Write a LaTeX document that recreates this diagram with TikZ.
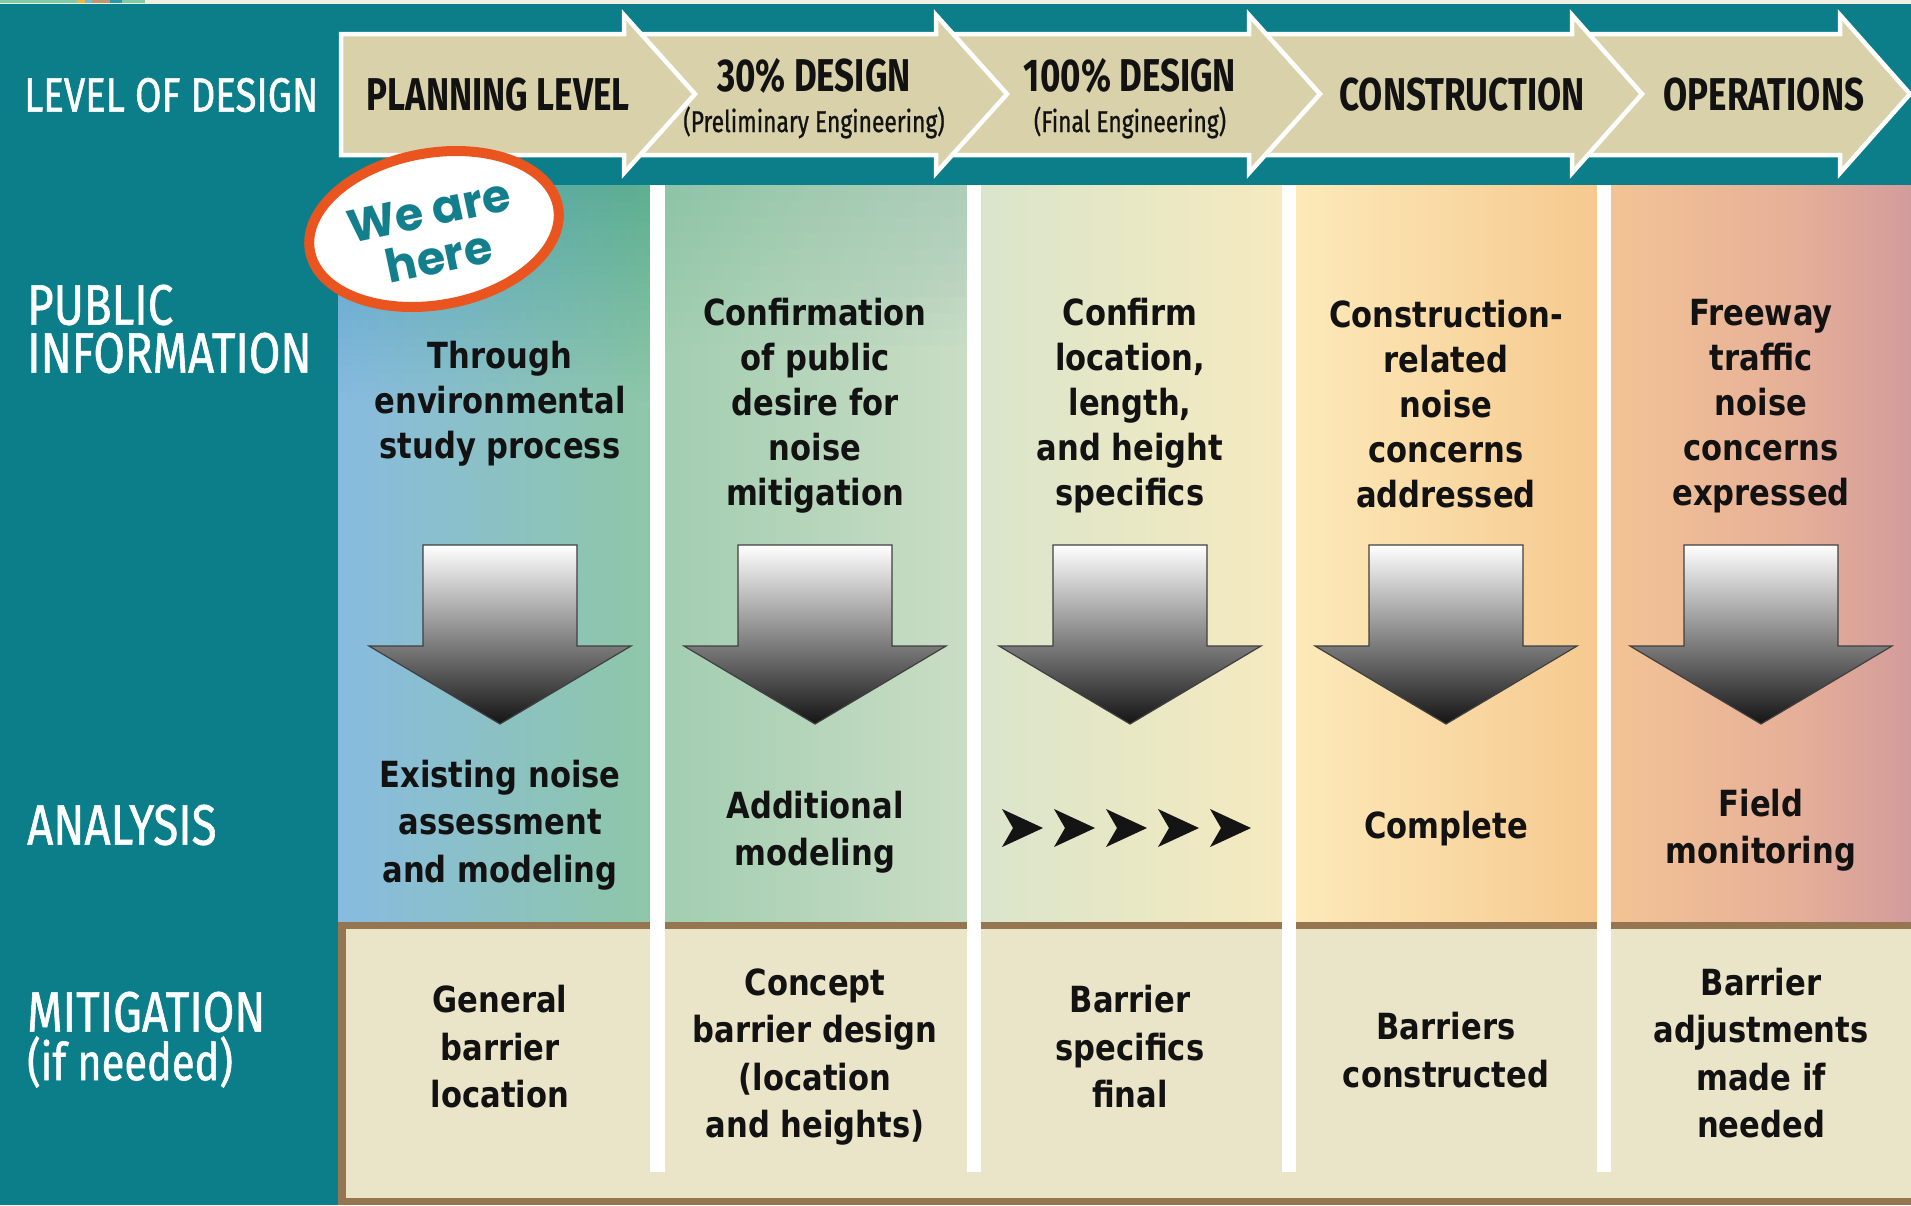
\documentclass[tikz,border=0pt]{standalone}
\usepackage{fontspec}
\newfontfamily\lblfont[FakeStretch=0.8,FakeBold=1]{Fira Sans}
\newfontfamily\arrfont[FakeStretch=0.76]{Fira Sans}
\newfontfamily\subfont[FakeStretch=0.76,FakeBold=0.8]{Fira Sans}
\newfontfamily\bodyfont[FakeStretch=0.85]{DejaVu Sans}
\newfontfamily\herefont{Poppins}
\definecolor{tealbg}{HTML}{0B7E8A}
\definecolor{stripbg}{HTML}{F1EEE6}
\definecolor{sA}{HTML}{7FCBA8}
\definecolor{sB}{HTML}{F0B840}
\definecolor{sC}{HTML}{6EC0D0}
\definecolor{sD}{HTML}{C09870}
\definecolor{sE}{HTML}{2A9AAA}
\definecolor{khaki}{HTML}{D8D1AA}
\definecolor{brownln}{HTML}{957650}
\definecolor{beige}{HTML}{EAE4C9}
\definecolor{orng}{HTML}{E9541F}
\definecolor{hereteal}{HTML}{137F8C}
\definecolor{txt}{HTML}{121212}
\definecolor{gAL}{HTML}{88BBE0}
\definecolor{gAR}{HTML}{8EC7A8}
\definecolor{gBL}{HTML}{A0CDB0}
\definecolor{gBR}{HTML}{CADDC4}
\definecolor{gCL}{HTML}{D9E5CC}
\definecolor{gCR}{HTML}{F6EABF}
\definecolor{gDL}{HTML}{FDEBBB}
\definecolor{gDR}{HTML}{F6C98F}
\definecolor{gEL}{HTML}{F4C595}
\definecolor{gEM}{HTML}{E6B098}
\definecolor{gER}{HTML}{D39C9C}
\tikzset{
  hdarrow/.style={fill=khaki, draw=white, line width=4.5pt, line join=miter},
  dnarrow/.style={top color=white, middle color=black!30, bottom color=black!92, draw=black!75, line width=1.2pt},
  lbl/.style={text=white, anchor=west, inner sep=0pt, font=\lblfont\fontsize{48}{50}\selectfont},
  lblbig/.style={text=white, anchor=west, inner sep=0pt, font=\lblfont\fontsize{57}{58}\selectfont},
  lblsmall/.style={text=white, anchor=west, inner sep=0pt, font=\lblfont\fontsize{52}{54}\selectfont},
  hdtext/.style={text=txt, inner sep=0pt, font=\arrfont\bfseries\fontsize{46}{48}\selectfont},
  hdsub/.style={text=txt, inner sep=0pt, anchor=base, font=\subfont\fontsize{30}{32}\selectfont},
  pubtext/.style={text=txt, inner sep=0pt, align=center, font=\bodyfont\bfseries\fontsize{36}{45}\selectfont},
  antext/.style={text=txt, inner sep=0pt, align=center, font=\bodyfont\bfseries\fontsize{36}{47.5}\selectfont},
  heretext/.style={text=hereteal, inner sep=0pt, align=center, font=\herefont\bfseries\fontsize{46}{47}\selectfont},
  sepbar/.style={fill=white},
  chev/.style={fill=black!92}
}
\begin{document}
\begin{tikzpicture}[x=1pt,y=-1pt]
\useasboundingbox (0,0) rectangle (1911,1205);
% background
\fill[tealbg] (0,0) rectangle (1911,1205);
\fill[stripbg] (0,0) rectangle (1911,4);
\fill[sA] (0,0) rectangle (77,2.5);
\fill[sB] (77,0) rectangle (85,2.5);
\fill[sC] (85,0) rectangle (92,2.5);
\fill[sD] (92,0) rectangle (110,2.5);
\fill[sE] (110,0) rectangle (122,2.5);
\fill[sA] (122,0) rectangle (145,2.5);
% gradient band
\shade[left color=gAL, right color=gAR] (338,185) rectangle (650,922);
\shade[left color=gBL, right color=gBR] (650,185) rectangle (967,922);
\shade[left color=gCL, right color=gCR] (967,185) rectangle (1282,922);
\shade[left color=gDL, right color=gDR] (1282,185) rectangle (1597,922);
\shade[left color=gEL, right color=gEM] (1597,185) rectangle (1790,922);
\shade[left color=gEM, right color=gER] (1790,185) rectangle (1911,922);
% soft teal tint at the top of the first columns (nested layers)
\foreach \k in {1,...,24}{
  \fill[tealbg, fill opacity=0.012] (338,185) rectangle (650,185+\k*9);
}
\foreach \k in {1,...,10}{
  \fill[tealbg, fill opacity=0.01] (650,185) rectangle (967,185+\k*16);
}
% mitigation area
\fill[brownln] (338,922) rectangle (1911,929);
\fill[beige] (346,929) rectangle (1911,1198);
\fill[brownln] (338,922) rectangle (346,1205);
\fill[brownln] (338,1198) rectangle (1911,1205);
% separators
\foreach \a/\b in {650/665, 967/981, 1282/1296, 1597/1611}
  \fill[sepbar] (\a,185) rectangle (\b,1172);
% header chevron arrows (right to left)
\draw[hdarrow] (1572,34) -- (1840,34) -- (1840,15) -- (1910,94) -- (1840,173) -- (1840,155) -- (1572,155) -- cycle;
\draw[hdarrow] (1249,34) -- (1572,34) -- (1572,15) -- (1642,94) -- (1572,173) -- (1572,155) -- (1249,155) -- cycle;
\draw[hdarrow] (936,34) -- (1249,34) -- (1249,15) -- (1320,94) -- (1249,173) -- (1249,155) -- (936,155) -- cycle;
\draw[hdarrow] (624,34) -- (936,34) -- (936,15) -- (1007,94) -- (936,173) -- (936,155) -- (624,155) -- cycle;
\draw[hdarrow] (341,34) -- (624,34) -- (624,15) -- (695,94) -- (624,173) -- (624,155) -- (341,155) -- cycle;
% header texts
\node[hdtext] (plan) at (498,95) {PLANNING LEVEL};
\node[hdtext] (d30) at (814,76) {30\% DESIGN};
\node[hdsub] (d30s) at (814,132) {(Preliminary Engineering)};
\node[hdtext] (d100) at (1130,76) {100\% DESIGN};
\node[hdsub] (d100s) at (1130,132) {(Final Engineering)};
\node[hdtext] (cons) at (1462,95) {CONSTRUCTION};
\node[hdtext] (oper) at (1764,95) {OPERATIONS};
% row labels
\node[lbl] (lod) at (24,95) {LEVEL OF DESIGN};
\node[lblbig] (pubA) at (27,305) {PUBLIC};
\node[lblbig] (pubB) at (27,353) {INFORMATION};
\node[lblbig] (anl) at (27,825) {ANALYSIS};
\node[lblbig] (mitA) at (27,1012) {MITIGATION};
\node[lblsmall] (mitB) at (27,1062) {(if needed)};
% public information
\node[pubtext] (p1) at (500,404) {Through\\environmental\\study process};
\node[pubtext] (p2) at (815,406) {Confirmation\\of public\\desire for\\noise\\mitigation};
\node[pubtext] (p3) at (1130,406) {Confirm\\location,\\length,\\and height\\specifics};
\node[pubtext] (p4) at (1446,404) {Construction-\\related\\noise\\concerns\\addressed};
\node[pubtext] (p5) at (1761,406) {Freeway\\traffic\\noise\\concerns\\expressed};
% down arrows
\foreach \c in {500,815,1130,1446,1761}
  \draw[dnarrow] (\c-77,545) -- (\c+77,545) -- (\c+77,646) -- (\c+131,646) -- (\c,724) -- (\c-131,646) -- (\c-77,646) -- cycle;
% analysis
\node[antext] (a1) at (500,825) {Existing noise\\assessment\\and modeling};
\node[antext] (a2) at (815,832) {Additional\\modeling};
\foreach \x in {1002,1054,1106,1158,1210}
  \fill[chev] (\x,809) -- (\x+41,828) -- (\x,847) -- (\x+11,828) -- cycle;
\node[antext] (a4) at (1446,829) {Complete};
\node[antext] (a5) at (1761,830) {Field\\monitoring};
% mitigation
\node[antext] (m1) at (500,1047) {General\\barrier\\location};
\node[antext] (m2) at (815,1057) {Concept\\barrier design\\(location\\and heights)};
\node[antext] (m3) at (1130,1047) {Barrier\\specifics\\final};
\node[antext] (m4) at (1446,1050) {Barriers\\constructed};
\node[antext] (m5) at (1761,1053) {Barrier\\adjustments\\made if\\needed};
% we are here
\draw[orng, line width=10pt, fill=white, rotate around={10:(434,229)}] (434,229) ellipse [x radius=126, y radius=76];
\node[heretext, rotate=12] (here) at (434,234) {We are\\here};
\end{tikzpicture}
\end{document}
